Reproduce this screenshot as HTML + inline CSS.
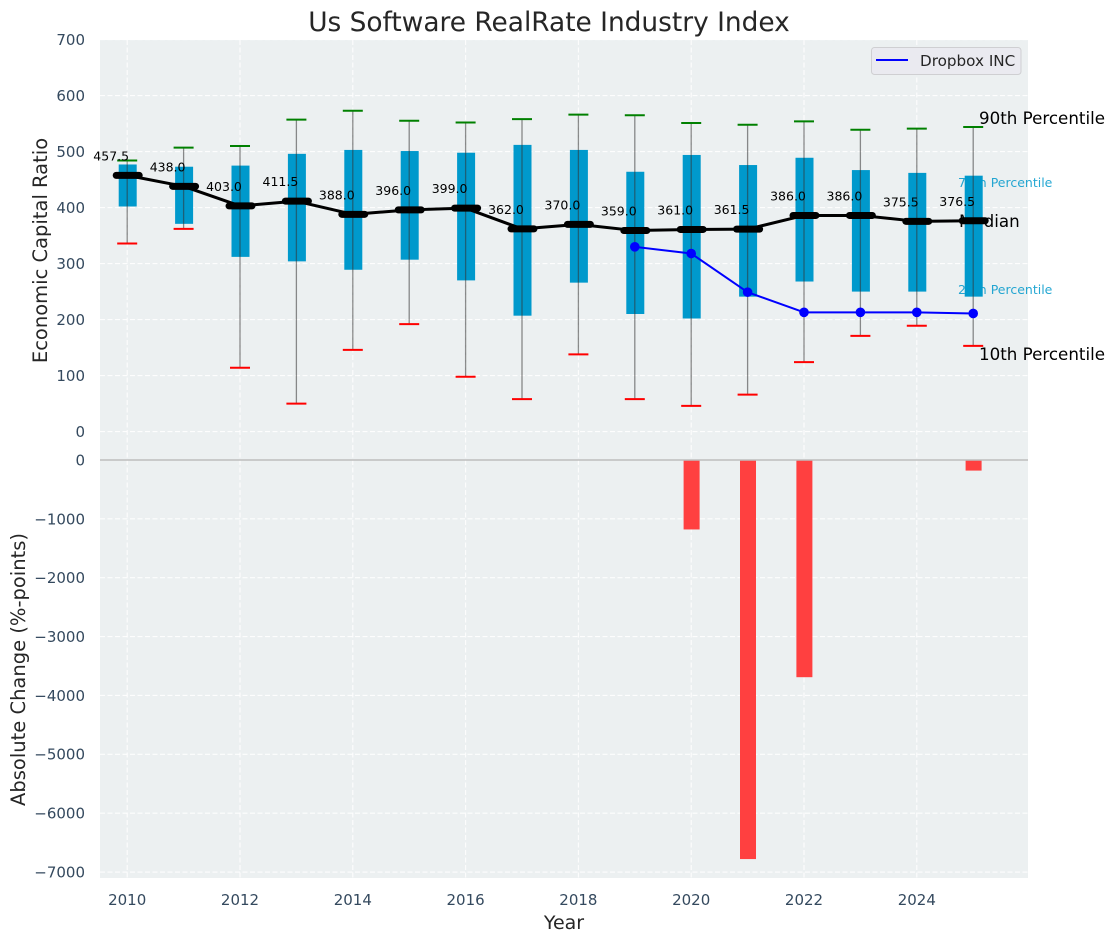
<!DOCTYPE html>
<html lang="en">
<head>
<meta charset="utf-8">
<title>Us Software RealRate Industry Index</title>
<style>
html,body{margin:0;padding:0;background:#fff;width:1114px;height:942px;overflow:hidden}
svg{display:block;font-family:"DejaVu Sans","Liberation Sans",sans-serif}
</style>
</head>
<body>
<svg id="chart" width="1114" height="942" viewBox="0 0 1114 942" xmlns="http://www.w3.org/2000/svg">
  <rect x="100" y="40" width="928" height="838" fill="#ecf0f1"/>
  <g id="grid"></g>
  <g id="top-ticks"></g>
  <g id="bottom-ticks"></g>
  <g id="x-ticks"></g>
  <text x="549" y="31" font-size="26.4" text-anchor="middle" fill="#262626">Us Software RealRate Industry Index</text>
  <text transform="translate(47,250.5) rotate(-90)" font-size="19.5" text-anchor="middle" fill="#262626">Economic Capital Ratio</text>
  <text transform="translate(25,669.5) rotate(-90)" font-size="19.5" text-anchor="middle" fill="#262626">Absolute Change (%-points)</text>
  <text x="564" y="929" font-size="19" text-anchor="middle" fill="#262626">Year</text>
  <g>
    <text x="958" y="187" font-size="12.5" fill="#0099cc" opacity="0.85">75th Percentile</text>
    <text x="958" y="294" font-size="12.5" fill="#0099cc" opacity="0.85">25th Percentile</text>
    <text x="959" y="227" font-size="16.7" fill="#000">Median</text>
  </g>
  <g id="boxes"></g>
  <g id="whiskers"></g>
  <path id="median-line" fill="none" stroke="#000" stroke-width="3" stroke-linejoin="round"/>
  <g id="median-marks"></g>
  <path id="company-line" fill="none" stroke="#0000ff" stroke-width="2" stroke-linejoin="round"/>
  <g id="company-points"></g>
  <g id="median-labels"></g>
  <g id="bars"></g>
  <line x1="100" x2="1028" y1="460" y2="460" stroke="#bdbdbd" stroke-width="1.4"/>
  <text x="979" y="124" font-size="16.7" fill="#000">90th Percentile</text>
  <text x="979" y="360" font-size="16.7" fill="#000">10th Percentile</text>
  <g>
    <rect x="871.5" y="47.5" width="149.5" height="27" rx="3" fill="#eaeaf0" stroke="#cfcfd2" stroke-width="1"/>
    <line x1="876" x2="908" y1="60" y2="60" stroke="#0000ff" stroke-width="2"/>
    <text x="920" y="66" font-size="15.2" fill="#262626">Dropbox INC</text>
  </g>
</svg>
<script>
const years = [2010,2011,2012,2013,2014,2015,2016,2017,2018,2019,2020,2021,2022,2023,2024,2025];
const p90 = [484,507,510,557,573,555,552,558,566,565,551,548,554,539,541,544];
const p75 = [477,473,475,496,503,501,498,512,503,464,494,476,489,467,462,457];
const median = [457.5,438.0,403.0,411.5,388.0,396.0,399.0,362.0,370.0,359.0,361.0,361.5,386.0,386.0,375.5,376.5];
const p25 = [402,371,312,304,289,307,270,207,266,210,202,241,268,250,250,241];
const p10 = [336,362,114,50,146,192,98,58,138,58,46,66,124,171,189,153];
const companyYears = [2019,2020,2021,2022,2023,2024,2025];
const companyValues = [330,318,249,213,213,213,211];
const changeYears = [2020,2021,2022,2025];
const changeValues = [-1180,-6780,-3690,-180];
const topTickValues = [0,100,200,300,400,500,600,700];
const bottomTickValues = [0,-1000,-2000,-3000,-4000,-5000,-6000,-7000];
const xTickValues = [2010,2012,2014,2016,2018,2020,2022,2024];

const NS = 'http://www.w3.org/2000/svg';
const xScale = v => 127.2 + (v - 2010) * 56.4;
const yTop = v => 431.6 - v * 0.56;
const yBottom = v => 460 - v * 0.05886;

function make(parentId, tag, attrs, text) {
  const el = document.createElementNS(NS, tag);
  for (const k in attrs) el.setAttribute(k, attrs[k]);
  if (text !== undefined) el.textContent = text;
  document.getElementById(parentId).appendChild(el);
  return el;
}
function fmt(v) {
  return v < 0 ? '\u2212' + Math.abs(v) : String(v);
}

topTickValues.forEach(v => {
  const g = make('grid', 'line', {x1:100, x2:1028, y1:yTop(v), y2:yTop(v), stroke:'#fff', 'stroke-width':1.1, 'stroke-dasharray':'5 2.5', opacity:0.9});
  
  
  const t = make('top-ticks', 'text', {x:85, y:yTop(v) + 5.4, 'font-size':15, 'text-anchor':'end', fill:'#34495e'}, fmt(v));
  
  
});
bottomTickValues.forEach(v => {
  const g = make('grid', 'line', {x1:100, x2:1028, y1:yBottom(v), y2:yBottom(v), stroke:'#fff', 'stroke-width':1.1, 'stroke-dasharray':'5 2.5', opacity:0.9});
  
  
  const t = make('bottom-ticks', 'text', {x:85, y:yBottom(v) + 5.4, 'font-size':15, 'text-anchor':'end', fill:'#34495e'}, fmt(v));
  
  
});
xTickValues.forEach(v => {
  const g = make('grid', 'line', {x1:xScale(v), x2:xScale(v), y1:40, y2:878, stroke:'#fff', 'stroke-width':1.1, 'stroke-dasharray':'5 2.5', opacity:0.9});
  
  
  const t = make('x-ticks', 'text', {x:xScale(v), y:905, 'font-size':15, 'text-anchor':'middle', fill:'#34495e'}, String(v));
  
  
});

years.forEach((yr, i) => {
  const x = xScale(yr);
  const box = make('boxes', 'rect', {x:x - 8.5, y:yTop(p75[i]), width:18, height:yTop(p25[i]) - yTop(p75[i]), fill:'#0099cc'});
  
  

  const stem = make('whiskers', 'line', {x1:x, x2:x, y1:yTop(p90[i]), y2:yTop(p10[i]), stroke:'#333', 'stroke-width':1.3, opacity:0.55});
  
  

  const capHigh = make('whiskers', 'line', {x1:x - 10, x2:x + 10, y1:yTop(p90[i]), y2:yTop(p90[i]), stroke:'#008000', 'stroke-width':2});
  
  

  const capLow = make('whiskers', 'line', {x1:x - 10, x2:x + 10, y1:yTop(p10[i]), y2:yTop(p10[i]), stroke:'#ff0000', 'stroke-width':2});
  
  

  const mark = make('median-marks', 'line', {x1:x - 11, x2:x + 12, y1:yTop(median[i]), y2:yTop(median[i]), stroke:'#000', 'stroke-width':7, 'stroke-linecap':'round'});
  
  

  const label = make('median-labels', 'text', {x:x - 16, y:yTop(median[i]) - 15, 'font-size':12.5, 'text-anchor':'middle', fill:'#000'}, median[i].toFixed(1));
  
  
});

document.getElementById('median-line').setAttribute('d', years.map((yr, i) => (i ? 'L' : 'M') + xScale(yr) + ' ' + yTop(median[i])).join(' '));
document.getElementById('company-line').setAttribute('d', companyYears.map((yr, i) => (i ? 'L' : 'M') + xScale(yr) + ' ' + yTop(companyValues[i])).join(' '));

companyYears.forEach((yr, i) => {
  const c = make('company-points', 'circle', {cx:xScale(yr), cy:yTop(companyValues[i]), r:4.8, fill:'#0000ff'});
  
  
});

changeYears.forEach((yr, i) => {
  const x = xScale(yr);
  const bar = make('bars', 'rect', {x:x - 7.6, y:yBottom(0), width:16, height:yBottom(changeValues[i]) - yBottom(0), fill:'#ff4040'});
  
  
});
</script>
</body>
</html>
